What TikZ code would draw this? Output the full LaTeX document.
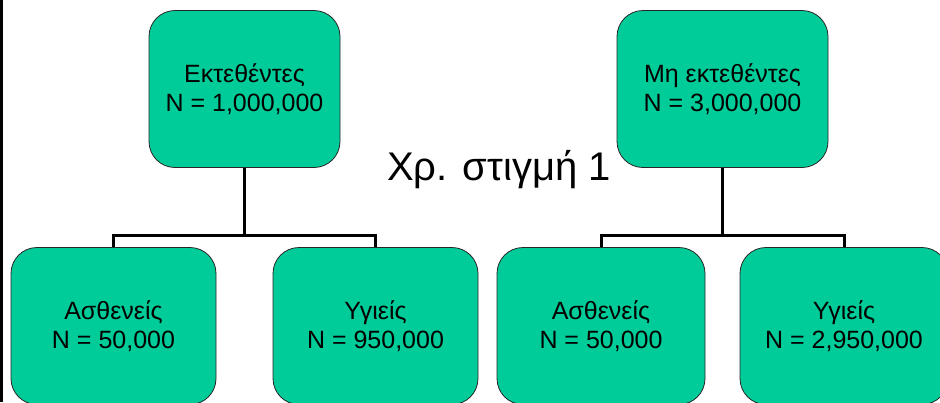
\documentclass[tikz,border=0pt]{standalone}
\usepackage{fontspec}
\setmainfont{Liberation Sans}
\definecolor{boxgreen}{RGB}{0,204,153}
\tikzset{
  box/.style={draw=black!85, line width=0.8pt, fill=boxgreen, rounded corners=26pt,
    align=center, inner sep=0pt, minimum height=157pt,
    font=\fontsize{25}{28.5}\selectfont},
  conn/.style={draw=black, line width=3pt},
}
\begin{document}
\begin{tikzpicture}[x=1pt,y=-1pt]
\useasboundingbox (0,0) rectangle (940,402);
\clip (0,0) rectangle (940,402);
\fill[white] (0,0) rectangle (940,402);
\fill[black] (0,0) rectangle (3,402);

\node[box, minimum width=191pt] (t1) at (244.5,89) {Εκτεθέντες\\N = 1,000,000};
\node[box, minimum width=211pt] (t2) at (722.5,89) {Μη εκτεθέντες\\N = 3,000,000};

\node[box, minimum width=205pt] (b1) at (113.5,326) {Ασθενείς\\N = 50,000};
\node[box, minimum width=205pt] (b2) at (375.5,326) {Υγιείς\\N = 950,000};
\node[box, minimum width=208pt] (b3) at (601,326) {Ασθενείς\\N = 50,000};
\node[box, minimum width=208pt] (b4) at (844,326) {Υγιείς\\N = 2,950,000};

\coordinate (m1) at (244.5,235);
\coordinate (m2) at (722.5,235);
\draw[conn] (t1.south) -- (m1);
\draw[conn] (m1) -| (b1.north);
\draw[conn] (m1) -| (b2.north);
\draw[conn] (t2.south) -- (m2);
\draw[conn] (m2) -| (b3.north);
\draw[conn] (m2) -| (b4.north);

\node[font=\fontsize{40}{46}\selectfont, inner sep=0pt, anchor=base] (title) at (499,180) {Χρ. στιγμή 1};
\end{tikzpicture}
\end{document}
